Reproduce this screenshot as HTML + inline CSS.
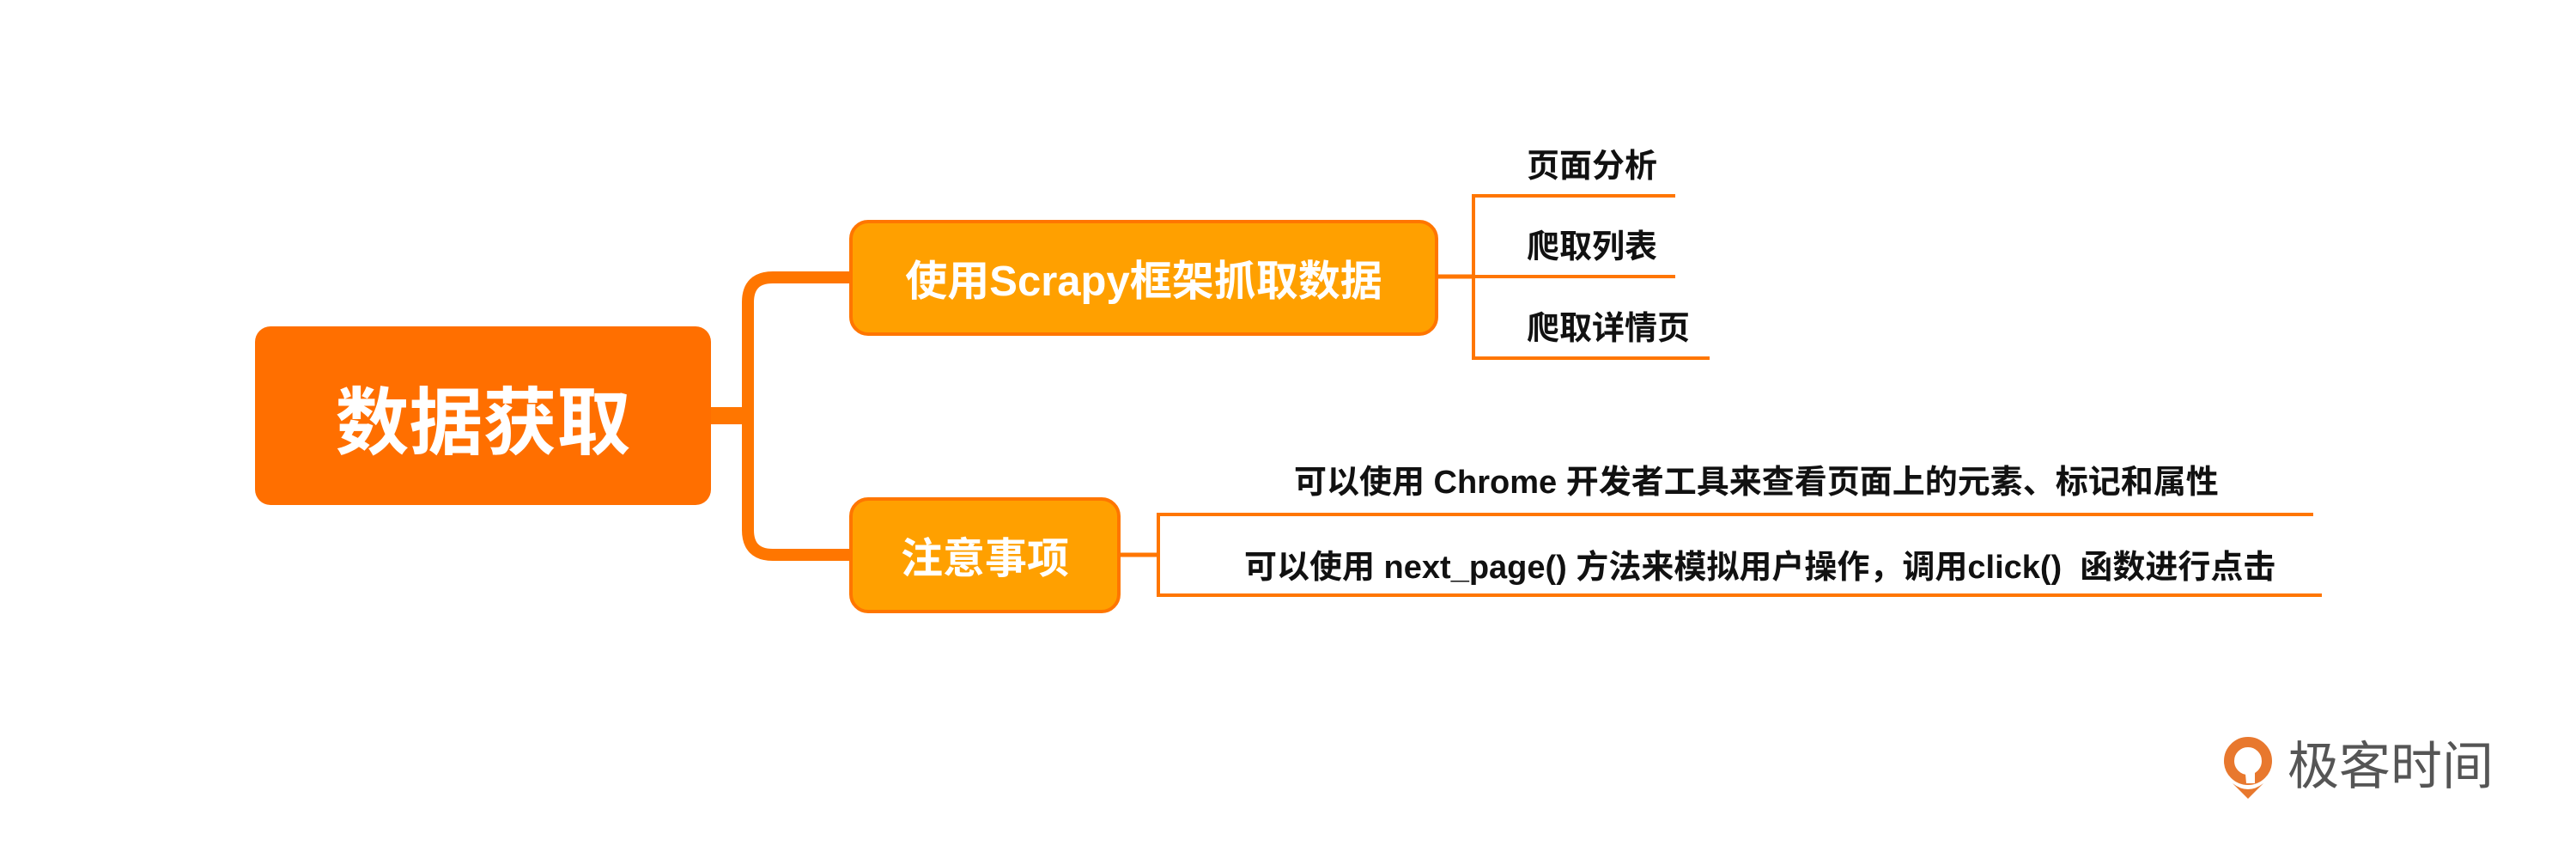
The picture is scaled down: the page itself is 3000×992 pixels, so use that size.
<!DOCTYPE html>
<html><head><meta charset="utf-8"><style>
html,body{margin:0;padding:0;background:#fff;}
body{width:3000px;height:992px;position:relative;overflow:hidden;font-family:"Liberation Sans","Noto Sans CJK SC",sans-serif;font-weight:bold;}
.b{position:absolute;display:flex;align-items:center;justify-content:center;box-sizing:border-box;color:#fff;white-space:nowrap;}
.t{position:absolute;color:#111;white-space:nowrap;line-height:1;transform:translateY(-50%);}
</style></head><body>
<svg width="3000" height="992" style="position:absolute;left:0;top:0">
<g stroke="#ff7600" fill="none">
<line x1="826" y1="484" x2="870" y2="484" stroke-width="20"/>
<path d="M990 323 H900 Q871 323 871 352 V617 Q871 646 900 646 H990" stroke-width="14"/>
<line x1="1675" y1="322" x2="1716" y2="322" stroke-width="5"/>
<line x1="1716" y1="227" x2="1716" y2="418" stroke-width="4"/>
<line x1="1714" y1="228" x2="1951" y2="228" stroke-width="4"/>
<line x1="1714" y1="322" x2="1951" y2="322" stroke-width="4"/>
<line x1="1714" y1="417" x2="1991" y2="417" stroke-width="4"/>
<line x1="1305" y1="646" x2="1349" y2="646" stroke-width="5"/>
<line x1="1349" y1="597" x2="1349" y2="695" stroke-width="4"/>
<line x1="1347" y1="599" x2="2694" y2="599" stroke-width="4"/>
<line x1="1347" y1="693" x2="2704" y2="693" stroke-width="4"/>
</g>
</svg>
<div class="b" style="left:297px;top:380px;width:531px;height:208px;background:#ff6f00;border-radius:18px;font-size:86px;">数据获取</div>
<div class="b" style="left:989px;top:256px;width:686px;height:135px;background:#ffa000;border:4px solid #ff7600;border-radius:22px;font-size:49px;">使用Scrapy框架抓取数据</div>
<div class="b" style="left:989px;top:579px;width:316px;height:135px;background:#ffa000;border:4px solid #ff7600;border-radius:22px;font-size:49px;">注意事项</div>
<div class="t" style="left:1778px;top:194px;font-size:38px;">页面分析</div>
<div class="t" style="left:1778px;top:288px;font-size:38px;">爬取列表</div>
<div class="t" style="left:1778px;top:383px;font-size:38px;">爬取详情页</div>
<div class="t" style="left:1507px;top:562px;font-size:38px;">可以使用 Chrome 开发者工具来查看页面上的元素、标记和属性</div>
<div class="t" style="left:1449px;top:661px;font-size:38px;">可以使用 next_page() 方法来模拟用户操作，调用click()&nbsp; 函数进行点击</div>
<svg width="60" height="82" style="position:absolute;left:2590px;top:850px" viewBox="0 0 60 82">
<circle cx="28" cy="36" r="22" fill="none" stroke="#e8782e" stroke-width="12"/>
<path d="M10 62 Q28 76 46 62 L28 80 Z" fill="#e8782e"/>
<path d="M24 40 L36 30 L36 62 L26 62 Z" fill="#fff"/>
</svg>
<div class="t" style="left:2664px;top:893px;font-size:60px;color:#555;font-weight:normal;">极客时间</div>
</body></html>
